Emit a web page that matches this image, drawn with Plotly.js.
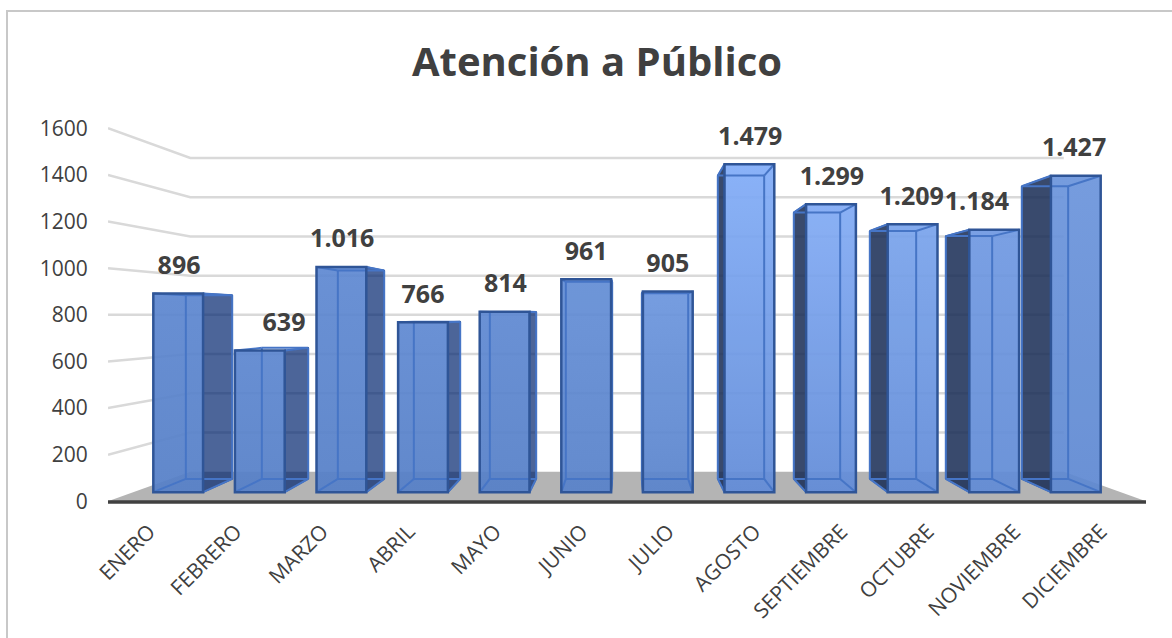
<!DOCTYPE html>
<html><head><meta charset="utf-8">
<script src="https://cdn.plot.ly/plotly-3.0.1.min.js"></script>
<style>html,body{margin:0;padding:0;background:#fff}#chart{width:1172px;height:638px}</style>
</head><body><div id="chart"></div>
<script>
const months = ["ENERO","FEBRERO","MARZO","ABRIL","MAYO","JUNIO","JULIO","AGOSTO","SEPTIEMBRE","OCTUBRE","NOVIEMBRE","DICIEMBRE"];
const atenciones = [896,639,1016,766,814,961,905,1479,1299,1209,1184,1427];
const yTicks = [0,200,400,600,800,1000,1200,1400,1600];

// styling / pseudo-3D settings (oblique perspective like the source's 3-D column chart)
const topColors = ["#5d87d0","#5d87d0","#5f89d2","#5f89d2","#5f89d2","#648ed6","#6c96de","#82adf8","#82abf5","#7aa4ec","#7099e2","#6c95dc"];
const botColors = ["#5680c8","#5680c8","#5680c8","#5680c8","#5680c8","#5882ca","#5a84cc","#628cd8","#628cd8","#628cd8","#628cd6","#5f89d2"];
const labelNudge = [0.01,0.28,0.01,0,0.01,0,0,0.01,0.01,-0.01,-0.2,-0.02];
const labelLift = 111;
const T_FRONT = 0.31, T_BACK = 0.76, HALF = 0.305, MID = 5.5;
const FLOOR_RISE = 126.5, SHRINK = 0.1585;
const wallX = (u,t) => MID + (u-MID)*(1-SHRINK*t);
const barX  = (u,t) => MID + (u-MID)*(0.988-0.144*t);
const projY = (v,t) => FLOOR_RISE*t + v*(1-SHRINK*t);

const OUTLINE = "#2f5597", INNER = "#4675c6", GRID = "#d9d9d9", TEXT = "#404040";
const traces = [];
const noHover = {hoverinfo:"skip", showlegend:false, cliponaxis:false};

// walls: gridlines run along the side wall then along the back wall
yTicks.filter(v=>v>0).forEach(v=>{
  traces.push({type:"scatter",mode:"lines",...noHover,
    x:[wallX(-0.5,0),wallX(-0.5,1),wallX(11.5,1)],
    y:[projY(v,0),projY(v,1),projY(v,1)],
    line:{color:GRID,width:2.5}});
});
// floor
traces.push({type:"scatter",mode:"lines",...noHover,fill:"toself",fillcolor:"#b4b4b4",
  x:[wallX(-0.5,0),wallX(-0.5,1),wallX(11.5,1),wallX(11.5,0),wallX(-0.5,0)],
  y:[0,projY(0,1),projY(0,1),0,0],line:{color:"#b4b4b4",width:0}});
// baseline
traces.push({type:"scatter",mode:"lines",...noHover,
  x:[wallX(-0.5,0),wallX(11.5,0)],y:[-3,-3],line:{color:"#404040",width:3.5}});

atenciones.forEach((v,i)=>{
  const fL=barX(i-HALF,T_FRONT), fR=barX(i+HALF,T_FRONT), bL=barX(i-HALF,T_BACK), bR=barX(i+HALF,T_BACK);
  const fB=projY(0,T_FRONT), fT=projY(v,T_FRONT), bB=projY(0,T_BACK), bT=projY(v,T_BACK);
  const leftSide = i>=6;
  const sF = leftSide?fL:fR, sB = leftSide?bL:bR;
  // visible side face
  traces.push({type:"scatter",mode:"lines",...noHover,fill:"toself",
    fillcolor:leftSide?"rgba(22,42,83,0.85)":"rgba(0,35,110,0.7)",
    x:[sF,sB,sB,sF,sF],y:[fB,bB,bT,fT,fB],line:{color:OUTLINE,width:1.5}});
  // front face, gradient
  traces.push({type:"scatter",mode:"lines",...noHover,fill:"toself",opacity:0.93,
    fillgradient:{type:"vertical",colorscale:[[0,botColors[i]],[1,topColors[i]]]},
    x:[fL,fR,fR,fL,fL],y:[fB,fB,fT,fT,fB],line:{color:"rgba(0,0,0,0)",width:0}});
  // inner edges seen through the translucent column
  traces.push({type:"scatter",mode:"lines",...noHover,
    x:[bL,bL,null,bR,bR,null,bL,bR,null,bL,bR,null,fL,bL,null,fR,bR,null,fL,bL,null,fR,bR],
    y:[bB,bT,null,bB,bT,null,bB,bB,null,bT,bT,null,fB,bB,null,fB,bB,null,fT,bT,null,fT,bT],
    line:{color:INNER,width:2}});
});

// front faces of the columns
traces.push({type:"bar",hoverinfo:"skip",showlegend:false,zorder:5,
  x:atenciones.map((v,i)=>barX(i,T_FRONT)),
  y:atenciones.map(v=>projY(v,T_FRONT)-projY(0,T_FRONT)),
  base:atenciones.map(()=>projY(0,T_FRONT)),
  width:atenciones.map(()=>2*HALF*(0.988-0.144*T_FRONT)),
  marker:{color:"rgba(0,0,0,0)",line:{color:OUTLINE,width:2.5}}});

// data labels
const fmt = v => String(v).replace(/\B(?=(\d{3})+$)/g,".");
traces.push({type:"scatter",mode:"text",hoverinfo:"skip",showlegend:false,zorder:6,cliponaxis:false,
  x:atenciones.map((v,i)=>barX(i,T_FRONT)+labelNudge[i]),
  y:atenciones.map(v=>projY(v,T_FRONT)+labelLift),
  text:atenciones.map(fmt),textposition:"middle center",
  textfont:{family:"Open Sans",size:25,color:TEXT,weight:700}});

const plotBottom = 506.4, plotH = 470.91;
const px = x => (x-108)/1038, py = y => (plotBottom-y)/plotH;
const frameColor = "#c8c8c8";
const layout = {
  width:1172,height:638,paper_bgcolor:"#fff",plot_bgcolor:"rgba(0,0,0,0)",showlegend:false,
  margin:{l:108,r:26,t:plotBottom-plotH,b:638-plotBottom,pad:0},
  font:{family:"Open Sans",color:TEXT},
  title:{text:"<b>Atención a Público</b>",x:597/1172,xanchor:"center",xref:"container",
         y:1-62/638,yanchor:"middle",yref:"container",font:{family:"Open Sans",size:40,color:TEXT}},
  xaxis:{type:"linear",range:[-0.5,11.5],tickvals:months.map((m,i)=>i),ticktext:months,tickangle:-45,
    showgrid:false,zeroline:false,showline:false,ticklabelshift:-2,
    ticks:"outside",ticklen:4,tickcolor:"rgba(0,0,0,0)",tickfont:{family:"Open Sans",size:21,color:TEXT},fixedrange:true},
  yaxis:{range:[-20,2000],tickvals:yTicks,showgrid:false,zeroline:false,showline:false,ticklabelshift:1.5,
    ticks:"outside",ticklen:15,tickcolor:"rgba(0,0,0,0)",tickfont:{family:"Open Sans",size:21,color:TEXT},fixedrange:true},
  shapes:[
    {type:"line",xref:"paper",yref:"paper",x0:px(7),x1:px(7),y0:py(640),y1:py(11.5),line:{color:frameColor,width:2}},
    {type:"line",xref:"paper",yref:"paper",x0:px(6),x1:px(1174),y0:py(11.5),y1:py(11.5),line:{color:frameColor,width:2}}
  ]
};
Plotly.newPlot("chart",traces,layout,{displayModeBar:false,staticPlot:true});
</script></body></html>
